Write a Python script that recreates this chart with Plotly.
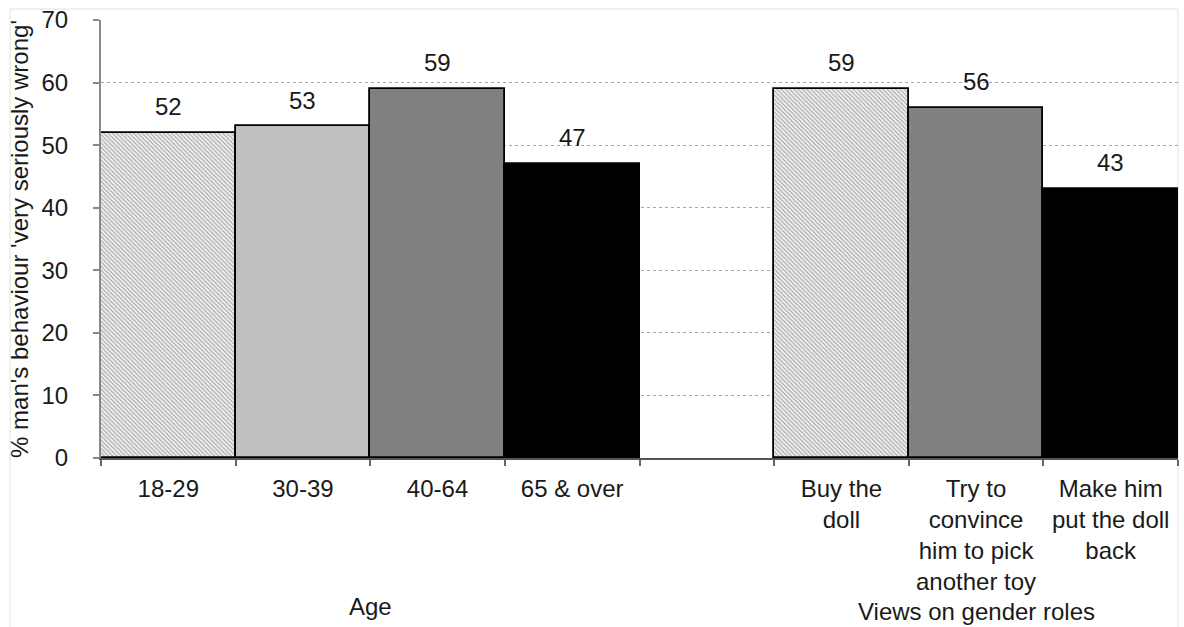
import plotly.graph_objects as go

# Share saying the man's behaviour was 'very seriously wrong', by group
age_groups = ["18-29", "30-39", "40-64", "65 & over"]
age_values = [52, 53, 59, 47]

view_groups = ["Buy the<br>doll",
               "Try to<br>convince<br>him to pick<br>another toy",
               "Make him<br>put the doll<br>back"]
view_values = [59, 56, 43]

y_ticks = [0, 10, 20, 30, 40, 50, 60, 70]

# Fills for each bar (hatched light, light grey, mid grey, black)
age_colors = ["#efefef", "#c0c0c0", "#808080", "#000000"]
age_patterns = ["\\", "", "", ""]
view_colors = ["#efefef", "#808080", "#000000"]
view_patterns = ["\\", "", ""]

spacer = " "
categories = age_groups + [spacer] + view_groups

FONT = "Liberation Sans, Arial, sans-serif"
FS = 24
TXT = "#1a1a1a"
W, H = 1184, 627
L, R, T, B = 101, 6, 18, 169

fig = go.Figure()
fig.add_trace(go.Bar(
    x=age_groups + view_groups,
    y=age_values + view_values,
    width=1.0,
    marker=dict(
        color=age_colors + view_colors,
        line=dict(color="#000000", width=1.8),
        pattern=dict(shape=age_patterns + view_patterns,
                     fgcolor="#dcdcdc", bgcolor="#f2f2f2",
                     size=3, solidity=0.3),
    ),
    hoverinfo="skip",
))

# Value labels above each bar
for cat, val in zip(age_groups + view_groups, age_values + view_values):
    fig.add_annotation(x=cat, y=val, text=str(val), showarrow=False,
                       yanchor="middle", yshift=26,
                       font=dict(family=FONT, size=FS, color=TXT))

# Group captions under the category labels
pw = W - L - R
ph = H - T - B


def px_to_paper_x(px):
    return (px - L) / pw


def px_to_paper_y(py):
    return (H - B - py) / ph


fig.add_annotation(x=1.5, xref="x", y=px_to_paper_y(607), yref="paper",
                   text="Age", showarrow=False, yanchor="middle",
                   font=dict(family=FONT, size=FS, color=TXT))
fig.add_annotation(x=6, xref="x", y=px_to_paper_y(612), yref="paper",
                   text="Views on gender roles", showarrow=False,
                   yanchor="middle",
                   font=dict(family=FONT, size=FS, color=TXT))

# Light outer frame (open at the bottom edge of the page)
fig.add_shape(type="rect", xref="paper", yref="paper",
              x0=px_to_paper_x(10), x1=px_to_paper_x(1178),
              y0=px_to_paper_y(640), y1=px_to_paper_y(7),
              line=dict(color="#e2e2e2", width=1), layer="below")

fig.update_layout(
    width=W, height=H,
    margin=dict(l=L, r=R, t=T, b=B),
    paper_bgcolor="white", plot_bgcolor="white",
    showlegend=False,
    bargap=0,
    font=dict(family=FONT, size=FS, color=TXT),
    xaxis=dict(
        type="category",
        categoryorder="array", categoryarray=categories,
        range=[-0.5, len(categories) - 0.5],
        tickson="boundaries",
        ticks="outside", ticklen=6, tickwidth=1.5, tickcolor="#666",
        ticklabelstandoff=8,
        showline=True, linecolor="#555", linewidth=2,
        showgrid=False,
        tickfont=dict(family=FONT, size=FS, color=TXT),
    ),
    yaxis=dict(
        range=[0, 70],
        tickvals=y_ticks,
        ticks="outside", ticklen=6, tickwidth=2, tickcolor="#888",
        ticklabelstandoff=20,
        showline=True, linecolor="#888", linewidth=2,
        showgrid=True, gridcolor="#a8a8a8", griddash="dot", gridwidth=1,
        zeroline=False,
        tickfont=dict(family=FONT, size=FS, color=TXT),
        title=dict(text="% man's behaviour 'very seriously wrong'",
                   font=dict(family=FONT, size=FS, color=TXT),
                   standoff=6),
    ),
)

fig.write_html("out.html")
